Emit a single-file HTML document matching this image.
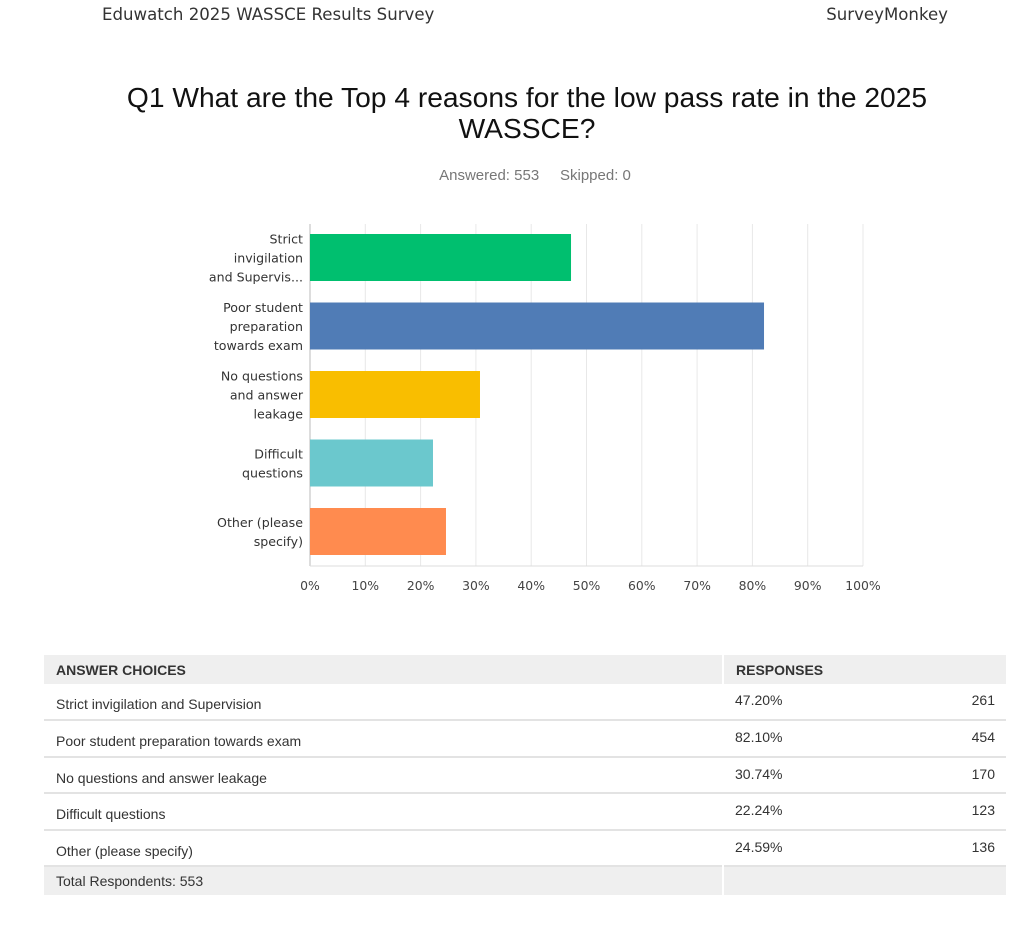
<!DOCTYPE html>
<html><head><meta charset="utf-8">
<style>
body{margin:0;width:1024px;height:926px;background:#fff;position:relative;overflow:hidden;font-family:"Liberation Sans",sans-serif}
.abs{position:absolute}
.hdr{font-family:"DejaVu Sans",sans-serif;font-size:16.6px;color:#333;top:5px}
table{border-collapse:collapse}
</style></head><body>
<div class="abs hdr" style="left:102px">Eduwatch 2025 WASSCE Results Survey</div>
<div class="abs hdr" style="right:76px">SurveyMonkey</div>
<div class="abs" style="left:0;width:1054px;top:82px;text-align:center;font-size:28.2px;line-height:31px;color:#111">Q1 What are the Top 4 reasons for the low pass rate in the 2025<br>WASSCE?</div>
<div class="abs" style="left:0;width:1070px;top:167px;text-align:center;font-size:15px;color:#777">Answered: 553 &nbsp;&nbsp;&nbsp; Skipped: 0</div>
<svg class="abs" style="left:0;top:0" width="1024" height="620"></svg>
<div class="abs" style="left:44px;top:655px;width:962px">
<table style="width:962px;font-size:14px;color:#333" id="tbl"></table>
</div>
<script>
const categories=[["Strict","invigilation","and Supervis..."],["Poor student","preparation","towards exam"],["No questions","and answer","leakage"],["Difficult","questions"],["Other (please","specify)"]];
const fullNames=["Strict invigilation and Supervision","Poor student preparation towards exam","No questions and answer leakage","Difficult questions","Other (please specify)"];
const percents=[47.20,82.10,30.74,22.24,24.59];
const counts=[261,454,170,123,136];
const colors=["#00bf6f","#507cb6","#f9be00","#6bc8cd","#ff8b4f"];
const ticks=[0,10,20,30,40,50,60,70,80,90,100];
const NS="http://www.w3.org/2000/svg";
const svg=document.querySelector('svg');
const x=v=>310+v*5.53;
const yTop=i=>234+i*68.5;
const bh=47;
function mk(t,a,p){const e=document.createElementNS(NS,t);for(const k in a)e.setAttribute(k,a[k]);(p||svg).appendChild(e);return e;}
ticks.forEach(t=>{
  const g=mk('line',{x1:x(t),x2:x(t),y1:224,y2:566,stroke:t===0?'#bbb':'#e8e8e8','stroke-width':1});
  
  
  const l=mk('text',{x:x(t),y:590,'text-anchor':'middle','font-size':12.4,fill:'#444','font-family':'DejaVu Sans, sans-serif'});
  l.textContent=t+'%';
  
  
});
mk('line',{x1:310,x2:863,y1:566,y2:566,stroke:'#ddd'});
percents.forEach((p,i)=>{
  const r=mk('rect',{x:x(0),y:yTop(i),width:x(p)-x(0),height:bh,fill:colors[i]});
  
  
  const lines=categories[i];
  const cy=yTop(i)+bh/2;
  lines.forEach((s,j)=>{
    const t=mk('text',{x:303,y:cy+(j-(lines.length-1)/2)*19+5,'text-anchor':'end','font-size':12.6,fill:'#333','font-family':'DejaVu Sans, sans-serif'});
    t.textContent=s;
    
    
  });
});
const tbl=document.getElementById('tbl');
let h='<tr style="background:#efefef;height:29px"><td style="padding-left:12px;font-weight:bold;border-right:2px solid #fff">ANSWER CHOICES</td><td colspan="2" style="padding-left:12px;font-weight:bold">RESPONSES</td></tr>';
fullNames.forEach((n,i)=>{
  h+='<tr style="height:'+(i==1||i==3?37:36)+'px;border-bottom:2px solid #e3e3e3"><td style="padding-left:12px;width:666px;padding-top:6px">'+n+'</td><td style="padding-left:12px;vertical-align:top;padding-top:8px">'+percents[i].toFixed(2)+'%</td><td style="text-align:right;padding-right:11px;vertical-align:top;padding-top:8px">'+counts[i]+'</td></tr>';
});
h+='<tr style="background:#efefef;height:29px"><td style="padding-left:12px;border-right:2px solid #fff">Total Respondents: 553</td><td colspan="2"></td></tr>';
tbl.innerHTML=h;
tbl.querySelectorAll('tr').forEach(r=>{});
</script>
</body></html>
